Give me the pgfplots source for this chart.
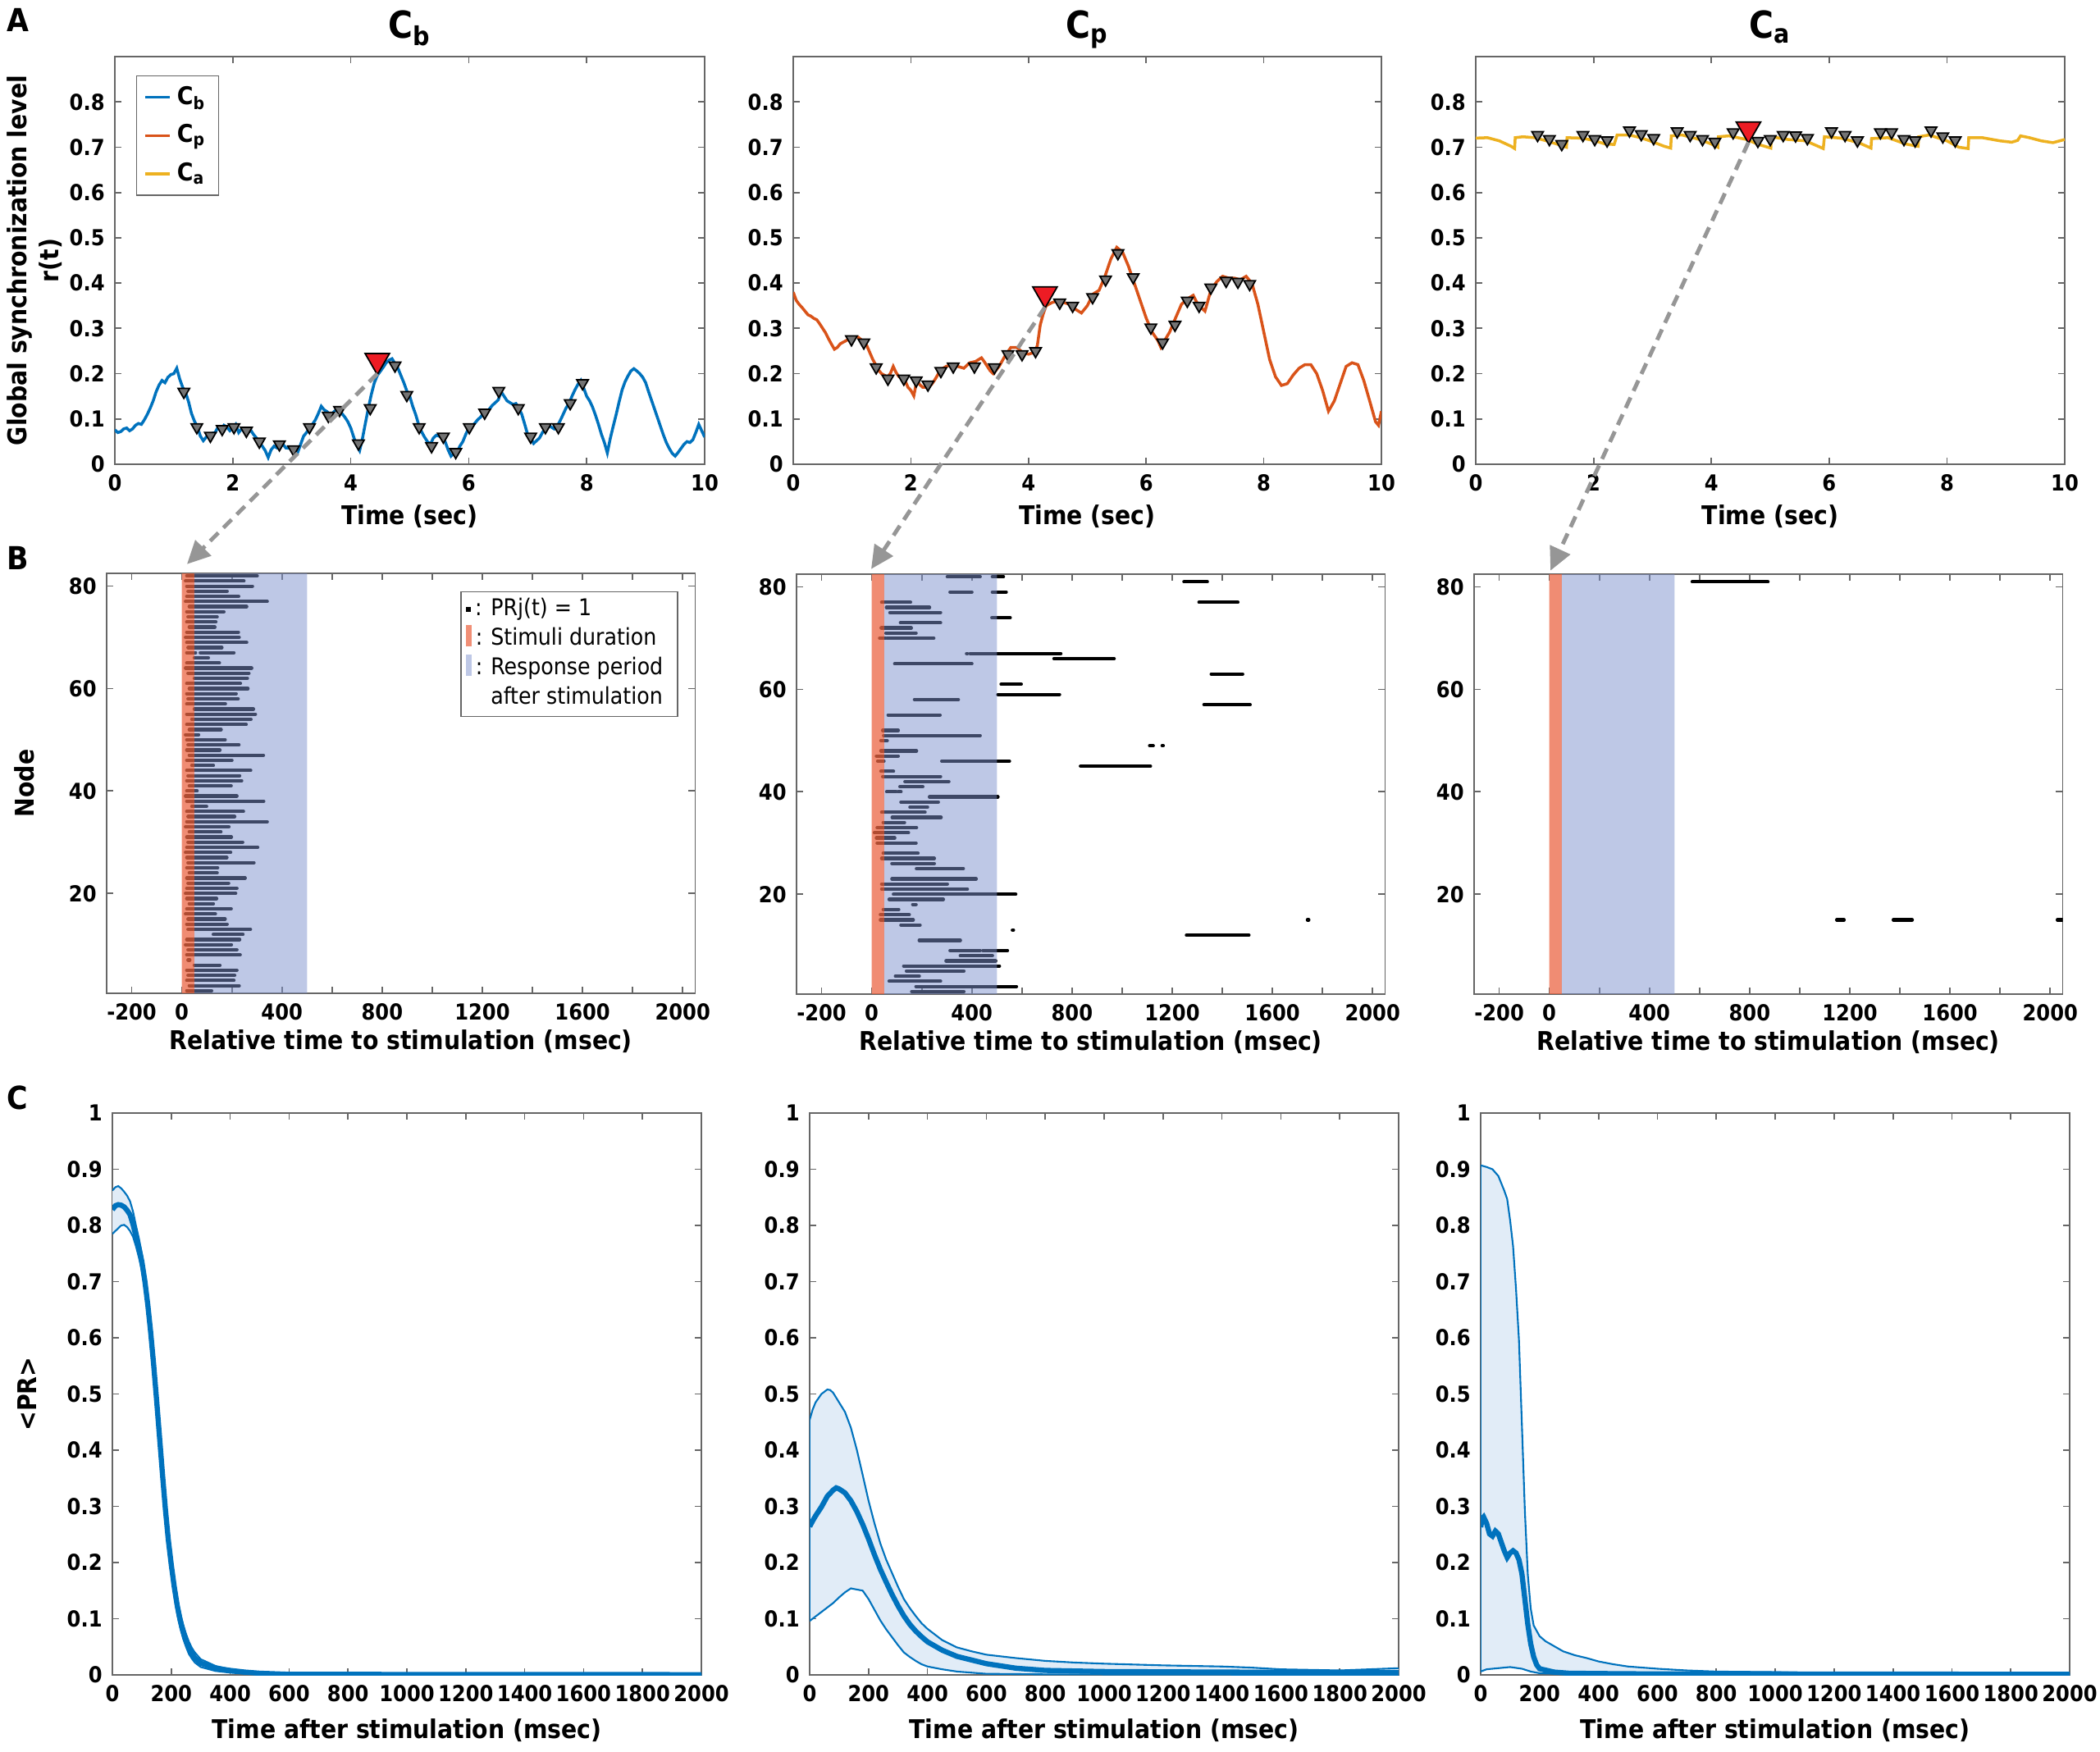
\documentclass[border=0pt]{standalone}
\usepackage{fontspec}
\setmainfont{DejaVu Sans Condensed}[BoldFont={DejaVu Sans Condensed Bold}]
\usepackage{pgfplots}
\usepackage{pgfplotstable}
\pgfplotsset{compat=1.18}
\usetikzlibrary{arrows.meta}

\definecolor{mblue}{RGB}{0,114,189}
\definecolor{morange}{RGB}{217,83,25}
\definecolor{myellow}{RGB}{237,177,32}
\definecolor{mred}{RGB}{237,28,36}
\definecolor{stimc}{RGB}{235,102,68}
\definecolor{respc}{RGB}{125,145,205}
\definecolor{stimL}{RGB}{241,143,118}
\definecolor{respL}{RGB}{190,200,230}
\definecolor{bandc}{RGB}{225,236,247}
\definecolor{arrowc}{RGB}{150,150,150}

\newcommand\tickfont{\fontsize{7.65}{9}\selectfont\bfseries}
\newcommand\labfont{\fontsize{8.95}{11.1}\selectfont\bfseries}
\newcommand\titfont{\fontsize{12.9}{14}\selectfont\bfseries}
\newcommand\panfont{\fontsize{11}{12}\selectfont\bfseries}
\newcommand\legfont{\fontsize{8.5}{10}\selectfont\bfseries}
\newcommand\legbfont{\fontsize{8.0}{10.2}\selectfont}

\pgfplotsset{
  base/.style={
    scale only axis, anchor=north west,
    axis line style={black!60, line width=0.5pt},
    tick style={black!60, line width=0.5pt},
    major tick length=2.3pt,
    tick align=inside,
    tick label style={font=\tickfont},
    /pgf/number format/assume math mode=true,
    /pgf/number format/1000 sep={},
    scaled ticks=false,
    label style={font=\labfont},
  },
  arow/.style={base, width=71.8mm, height=49.7mm,
    xmin=0, xmax=10, ymin=0, ymax=0.9,
    xtick={0,2,4,6,8,10}, ytick={0,0.1,0.2,0.3,0.4,0.5,0.6,0.7,0.8},
    xlabel={Time (sec)}, xlabel style={at={(axis description cs:0.5,-0.129)}, anchor=center},
    title style={font=\titfont, at={(0.5,1)}, anchor=base, yshift=0.5pt},
  },
  brow/.style={base, width=71.75mm, height=51.2mm,
    xmin=-300, xmax=2050, ymin=0.5, ymax=82.5,
    xtick={-200,0,200,400,600,800,1000,1200,1400,1600,1800,2000},
    xticklabels={-200,0,,400,,800,,1200,,1600,,2000},
    ytick={20,40,60,80},
    xlabel={Relative time to stimulation (msec)},
    xlabel style={at={(axis description cs:0.5,-0.115)}, anchor=center},
  },
  crow/.style={base, width=71.8mm, height=68.5mm,
    xmin=0, xmax=2000, ymin=0, ymax=1,
    xtick={0,200,400,600,800,1000,1200,1400,1600,1800,2000},
    ytick={0,0.1,0.2,0.3,0.4,0.5,0.6,0.7,0.8,0.9,1},
    xlabel={Time after stimulation (msec)},
    xlabel style={at={(axis description cs:0.5,-0.098)}, anchor=center},
  },
  smalltri/.style={only marks, mark=triangle*, mark size=2.3pt,
    mark options={rotate=180, fill=black!55, draw=black, line width=0.5pt}},
  bigtri/.style={only marks, mark=triangle*, mark size=4.9pt,
    mark options={rotate=180, fill=mred, draw=black, line width=0.5pt}},
  bars/.style={black, line width=1.2pt, line cap=round, quiver={u=\thisrow{u}, v=0}},
}

% ---------------- panel C data ----------------
\pgfplotstableread{
x y
0 0.862
10 0.868
20 0.870
30 0.866
40 0.860
50 0.853
60 0.843
70 0.825
80 0.800
90 0.777
100 0.750
110 0.714
120 0.672
130 0.622
140 0.566
150 0.504
160 0.440
170 0.374
180 0.312
190 0.258
200 0.212
210 0.172
220 0.138
230 0.111
240 0.090
250 0.073
260 0.059
270 0.048
280 0.040
300 0.028
350 0.016
400 0.010
450 0.007
500 0.005
600 0.003
800 0.002
1000 0.0015
2000 0.001
}\ConeU
\pgfplotstableread{
x y
0 0.828
10 0.835
20 0.837
30 0.836
40 0.833
50 0.827
60 0.819
70 0.802
80 0.781
90 0.760
100 0.736
110 0.702
120 0.660
130 0.610
140 0.553
150 0.490
160 0.424
170 0.358
180 0.295
190 0.240
200 0.196
210 0.157
220 0.124
230 0.098
240 0.078
250 0.061
260 0.048
270 0.038
280 0.030
300 0.021
350 0.012
400 0.008
450 0.005
500 0.003
600 0.001
800 0.001
1000 0.0008
1500 0.0006
2000 0.0005
}\ConeM
\pgfplotstableread{
x y
0 0.785
10 0.790
20 0.795
30 0.800
40 0.801
50 0.797
60 0.790
70 0.780
80 0.763
90 0.743
100 0.720
110 0.688
120 0.646
130 0.597
140 0.540
150 0.477
160 0.410
170 0.343
180 0.280
190 0.225
200 0.180
210 0.141
220 0.108
230 0.084
240 0.065
250 0.050
260 0.037
270 0.029
280 0.022
300 0.014
350 0.007
400 0.004
450 0.002
500 0.001
600 0.0
2000 0.0
}\ConeL

\pgfplotstableread{
x y
0 0.454
10 0.472
20 0.485
40 0.500
60 0.508
70 0.507
80 0.502
100 0.485
120 0.468
140 0.440
160 0.401
180 0.356
200 0.310
220 0.270
240 0.234
260 0.205
280 0.181
300 0.157
320 0.135
340 0.119
360 0.105
380 0.092
400 0.082
450 0.062
500 0.049
550 0.042
600 0.036
700 0.030
800 0.025
900 0.022
1000 0.020
1200 0.017
1400 0.015
1500 0.013
1600 0.010
1800 0.008
1900 0.010
2000 0.012
}\CtwoU
\pgfplotstableread{
x y
0 0.264
10 0.274
20 0.283
40 0.299
60 0.318
80 0.329
90 0.333
100 0.331
120 0.324
140 0.310
160 0.291
180 0.268
200 0.242
220 0.214
240 0.188
260 0.165
280 0.143
300 0.123
320 0.105
340 0.090
360 0.078
380 0.068
400 0.059
450 0.044
500 0.033
600 0.020
700 0.012
800 0.008
1000 0.006
1400 0.005
2000 0.004
}\CtwoM
\pgfplotstableread{
x y
0 0.096
20 0.104
40 0.112
60 0.120
80 0.128
100 0.138
120 0.147
140 0.154
160 0.152
180 0.150
200 0.135
220 0.116
240 0.097
260 0.081
280 0.067
300 0.053
320 0.040
340 0.032
360 0.025
380 0.019
400 0.015
450 0.010
500 0.006
600 0.002
800 0.001
2000 0.0
}\CtwoL

\pgfplotstableread{
x y
0 0.907
20 0.904
40 0.900
60 0.888
80 0.862
90 0.847
100 0.809
110 0.763
120 0.687
130 0.596
140 0.445
150 0.293
160 0.179
170 0.118
180 0.088
200 0.069
220 0.060
240 0.054
260 0.048
280 0.042
320 0.035
360 0.030
400 0.024
450 0.019
500 0.015
600 0.011
700 0.008
800 0.006
1000 0.005
1200 0.002
2000 0.001
}\CthreeU
\pgfplotstableread{
x y
0 0.263
5 0.278
10 0.281
20 0.270
30 0.251
40 0.247
50 0.256
60 0.251
70 0.236
80 0.221
90 0.209
100 0.217
110 0.221
120 0.217
130 0.205
140 0.180
150 0.135
160 0.090
170 0.055
180 0.032
190 0.018
200 0.011
250 0.005
300 0.003
500 0.002
2000 0.001
}\CthreeM
\pgfplotstableread{
x y
0 0.006
20 0.010
60 0.012
100 0.014
140 0.011
170 0.006
200 0.003
300 0.001
2000 0.0
}\CthreeL

\begin{document}
\begin{tikzpicture}
\path[use as bounding box] (0,0) rectangle (256mm,-213.6mm);

% ================= ROW B =================
\begin{axis}[brow, at={(13.0mm,-69.9mm)}, ylabel={Node},
  ylabel style={at={(axis description cs:-0.140,0.5)}, anchor=center}]
\addplot[bars] table[x=x,y=y] {
x y u
20 82 281
15 81 233
20 80 262
25 79 156
20 78 207
15 77 326
30 76 229
20 75 148
25 74 116
20 73 116
30 72 102
20 71 206
15 70 214
20 69 239
25 68 135
20 67 35
74 67 134
50 66 56
20 65 130
15 64 264
25 63 243
50 62 212
20 61 214
30 60 234
20 59 197
25 58 200
20 57 154
50 56 236
20 55 274
40 54 236
20 53 237
30 52 127
15 51 52
20 50 153
25 49 203
20 48 132
30 47 296
20 46 180
40 45 86
20 44 255
25 43 206
20 42 219
30 41 167
20 40 41
15 39 205
20 38 307
40 37 59
20 36 226
25 35 186
20 34 321
15 33 173
30 32 126
20 31 178
25 30 218
20 29 283
15 28 180
20 27 160
25 26 263
20 25 123
30 24 111
20 23 233
25 22 162
20 21 200
15 20 200
20 19 119
30 18 96
20 17 177
15 16 119
25 15 148
20 14 161
25 13 249
126 12 57
188 12 56
20 11 211
15 10 183
25 9 195
20 8 213
25 7 7
50 6 102
20 5 200
25 4 186
20 3 188
30 2 199
20 1 99
};
\addplot[draw=none, fill=stimc, fill opacity=0.75] coordinates {(0,0) (50,0) (50,90) (0,90) (0,0)};
\addplot[draw=none, fill=respc, fill opacity=0.5] coordinates {(50,0) (500,0) (500,90) (50,90) (50,0)};
\node[draw=black!60, fill=white, anchor=north west, inner xsep=0pt, inner ysep=1.2pt, font=\legbfont] at (axis cs:1113,79) {%
\begin{tabular}{@{\hspace{1.7pt}}p{8.6pt}@{}l@{\hspace{5pt}}}
\rule[1.4pt]{1.8pt}{1.8pt}\,: & PRj(t) = 1\\
\textcolor{stimL}{\rule[-0.4pt]{2pt}{7.4pt}}\,: & Stimuli duration\\
\textcolor{respL}{\rule[-0.4pt]{2pt}{7.4pt}}\,: & Response period\\
 & after stimulation
\end{tabular}};
\coordinate (b1) at (axis cs:21,84.3);
\end{axis}

\begin{axis}[brow, at={(97.1mm,-70.0mm)}]
\addplot[bars] table[x=x,y=y] {
x y u
302 82 131
482 82 44
1247 81 93
313 79 87
482 79 55
40 77 115
1307 77 155
59 76 172
73 75 202
480 74 73
115 73 160
38 72 120
57 71 120
32 70 23
62 70 186
379 67 3
393 67 362
728 66 240
92 65 308
1356 63 125
517 61 80
504 59 246
171 58 175
1327 57 184
66 55 207
44 52 62
48 51 385
37 50 25
1110 49 14
1160 49 4
37 48 142
19 47 87
24 46 25
280 46 270
834 45 279
37 44 50
44 43 231
133 42 175
113 41 91
60 40 38
106 40 11
231 39 273
117 38 149
153 37 70
40 36 173
82 35 195
46 34 85
22 33 157
11 32 136
19 31 73
22 30 155
46 28 139
40 27 210
81 26 169
179 25 187
81 23 336
40 22 262
40 21 342
87 20 488
70 19 216
164 18 13
46 17 62
35 16 115
35 15 131
1740 15 5
117 14 76
562 13 4
1257 12 249
190 11 164
313 9 120
444 9 98
354 8 128
297 7 198
128 6 382
139 5 229
95 4 95
70 3 205
177 2 401
160 1 208
};
\addplot[draw=none, fill=stimc, fill opacity=0.75] coordinates {(0,0) (50,0) (50,90) (0,90) (0,0)};
\addplot[draw=none, fill=respc, fill opacity=0.5] coordinates {(50,0) (500,0) (500,90) (50,90) (50,0)};
\coordinate (b2) at (axis cs:-2,83.5);
\end{axis}

\begin{axis}[brow, at={(179.7mm,-70.0mm)}]
\addplot[bars] table[x=x,y=y] {
x y u
571 81 302
1148 15 29
1374 15 75
2029 15 21
};
\addplot[draw=none, fill=stimc, fill opacity=0.75] coordinates {(0,0) (50,0) (50,90) (0,90) (0,0)};
\addplot[draw=none, fill=respc, fill opacity=0.5] coordinates {(50,0) (500,0) (500,90) (50,90) (50,0)};
\coordinate (b3) at (axis cs:5,83.2);
\end{axis}

% ================= ROW A =================
\begin{axis}[arow, at={(14.0mm,-6.9mm)}, width=71.9mm, title={C\textsubscript{b}},
  ylabel={Global synchronization level\\r(t)},
  ylabel style={at={(axis description cs:-0.1356,0.5)}, anchor=center, align=center},
  legend style={at={(0.036,0.954)}, anchor=north west, draw=black!60, font=\legfont,
    inner xsep=2.5pt, inner ysep=1.5pt, row sep=1.5pt, cells={anchor=west}},
  legend image code/.code={\draw[#1] (0mm,0mm) -- (3mm,0mm);}]
\addplot[mblue, line width=1pt] coordinates {
(0.0,0.076) (0.05,0.070) (0.1,0.072) (0.15,0.078) (0.2,0.080) (0.25,0.074) (0.3,0.078) (0.35,0.086) (0.4,0.090)
(0.45,0.088) (0.5,0.098) (0.55,0.110) (0.6,0.124) (0.65,0.140) (0.7,0.160) (0.75,0.175) (0.8,0.185)
(0.85,0.180) (0.9,0.192) (0.95,0.198) (1.0,0.200) (1.05,0.212) (1.1,0.188) (1.15,0.170) (1.2,0.158)
(1.25,0.138) (1.3,0.112) (1.35,0.095) (1.4,0.082) (1.45,0.062) (1.5,0.052) (1.55,0.060) (1.6,0.066)
(1.7,0.070) (1.75,0.082) (1.8,0.076) (1.85,0.086) (1.9,0.082) (1.95,0.074) (2.0,0.080) (2.05,0.088)
(2.1,0.070) (2.15,0.078) (2.2,0.072) (2.25,0.068) (2.3,0.076) (2.35,0.066) (2.4,0.058) (2.45,0.048)
(2.5,0.040) (2.55,0.030) (2.6,0.015) (2.65,0.032) (2.7,0.040) (2.75,0.036) (2.8,0.042) (2.85,0.044)
(2.9,0.036) (3.0,0.035) (3.05,0.030) (3.1,0.026) (3.15,0.044) (3.2,0.062) (3.25,0.070) (3.3,0.080)
(3.35,0.088) (3.4,0.098) (3.45,0.112) (3.5,0.128) (3.55,0.120) (3.6,0.116) (3.65,0.108) (3.7,0.114)
(3.75,0.120) (3.8,0.116) (3.85,0.112) (3.9,0.104) (3.95,0.094) (4.0,0.080) (4.05,0.060) (4.1,0.042)
(4.15,0.030) (4.2,0.058) (4.25,0.092) (4.3,0.125) (4.35,0.155) (4.4,0.180) (4.45,0.196) (4.5,0.205)
(4.55,0.214) (4.6,0.224) (4.65,0.230) (4.7,0.233) (4.75,0.222) (4.8,0.212) (4.85,0.196) (4.9,0.180)
(4.95,0.162) (5.0,0.150) (5.05,0.128) (5.1,0.110) (5.15,0.088) (5.2,0.072) (5.25,0.060) (5.3,0.050)
(5.35,0.044) (5.4,0.058) (5.45,0.064) (5.5,0.062) (5.55,0.058) (5.6,0.050) (5.65,0.032) (5.7,0.018)
(5.75,0.024) (5.8,0.026) (5.85,0.040) (5.9,0.050) (5.95,0.066) (6.0,0.080) (6.05,0.084) (6.1,0.090)
(6.15,0.098) (6.2,0.104) (6.25,0.112) (6.3,0.112) (6.35,0.122) (6.4,0.130) (6.45,0.136) (6.5,0.142)
(6.55,0.160) (6.6,0.150) (6.65,0.140) (6.7,0.136) (6.75,0.132) (6.8,0.134) (6.85,0.124) (6.9,0.110)
(6.95,0.088) (7.0,0.065) (7.05,0.058) (7.1,0.046) (7.15,0.052) (7.2,0.058) (7.25,0.070) (7.3,0.080)
(7.35,0.086) (7.4,0.082) (7.45,0.078) (7.5,0.084) (7.55,0.096) (7.6,0.110) (7.65,0.124) (7.7,0.134)
(7.75,0.150) (7.8,0.164) (7.85,0.176) (7.9,0.185) (7.95,0.168) (8.0,0.150) (8.05,0.140) (8.1,0.126)
(8.15,0.108) (8.2,0.088) (8.25,0.066) (8.3,0.048) (8.35,0.025) (8.4,0.057) (8.45,0.084) (8.5,0.110)
(8.55,0.138) (8.6,0.164) (8.65,0.182) (8.7,0.195) (8.75,0.206) (8.8,0.211) (8.85,0.206) (8.9,0.200)
(8.95,0.192) (9.0,0.180) (9.05,0.160) (9.1,0.141) (9.15,0.122) (9.2,0.103) (9.25,0.084) (9.3,0.065)
(9.35,0.048) (9.4,0.035) (9.45,0.024) (9.5,0.018) (9.55,0.026) (9.6,0.035) (9.65,0.044) (9.7,0.050)
(9.75,0.048) (9.8,0.054) (9.85,0.070) (9.9,0.088) (9.95,0.074) (10.0,0.060)
};
\addlegendentry{C\textsubscript{b}}
\addlegendimage{morange, line width=1pt}
\addlegendentry{C\textsubscript{p}}
\addlegendimage{myellow, line width=1pt}
\addlegendentry{C\textsubscript{a}}
\addplot[smalltri, forget plot] coordinates {
(1.17,0.160) (1.39,0.082) (1.62,0.063) (1.82,0.078) (2.02,0.082) (2.23,0.074) (2.45,0.050)
(2.79,0.044) (3.03,0.033) (3.30,0.082) (3.62,0.107) (3.81,0.120) (4.13,0.046) (4.33,0.124)
(4.75,0.218) (4.95,0.153) (5.16,0.082) (5.37,0.040) (5.57,0.061) (5.78,0.027) (6.01,0.082)
(6.27,0.114) (6.51,0.162) (6.84,0.124) (7.05,0.061) (7.30,0.082) (7.52,0.082) (7.72,0.135) (7.93,0.179)
};
\addplot[bigtri, forget plot] coordinates {(4.45,0.229)};
\coordinate (a1) at (axis cs:4.45,0.229);
\end{axis}

\begin{axis}[arow, at={(96.7mm,-6.9mm)}, width=71.7mm, title={C\textsubscript{p}}]
\addplot[morange, line width=1pt] coordinates {
(0.0,0.380) (0.05,0.362) (0.1,0.353) (0.15,0.346) (0.2,0.338) (0.25,0.330) (0.3,0.327) (0.35,0.322)
(0.4,0.319) (0.45,0.310) (0.5,0.300) (0.55,0.290) (0.6,0.277) (0.65,0.265) (0.7,0.254) (0.75,0.258)
(0.8,0.266) (0.9,0.273) (1.0,0.281) (1.1,0.281) (1.2,0.270) (1.25,0.262) (1.3,0.247) (1.35,0.232)
(1.4,0.220) (1.45,0.208) (1.5,0.200) (1.6,0.193) (1.65,0.200) (1.7,0.216) (1.75,0.202) (1.8,0.193)
(1.9,0.185) (1.95,0.170) (2.0,0.163) (2.05,0.151) (2.1,0.185) (2.15,0.176) (2.2,0.170) (2.3,0.170)
(2.35,0.176) (2.4,0.185) (2.45,0.196) (2.5,0.208) (2.6,0.216) (2.7,0.220) (2.8,0.216) (2.9,0.212)
(3.0,0.224) (3.1,0.227) (3.2,0.235) (3.25,0.226) (3.3,0.216) (3.35,0.206) (3.4,0.200) (3.45,0.208)
(3.5,0.216) (3.6,0.239) (3.7,0.258) (3.8,0.258) (3.9,0.247) (4.0,0.243) (4.1,0.247) (4.15,0.262)
(4.2,0.308) (4.25,0.332) (4.3,0.350) (4.4,0.357) (4.5,0.361) (4.6,0.357) (4.7,0.353) (4.8,0.342)
(4.9,0.334) (5.0,0.350) (5.1,0.376) (5.2,0.384) (5.3,0.415) (5.4,0.453) (5.5,0.479) (5.6,0.468)
(5.7,0.437) (5.8,0.399) (5.9,0.361) (6.0,0.323) (6.1,0.292) (6.2,0.273) (6.25,0.258) (6.3,0.270)
(6.4,0.292) (6.5,0.323) (6.6,0.353) (6.7,0.365) (6.8,0.373) (6.85,0.360) (6.9,0.350) (7.0,0.338)
(7.1,0.384) (7.2,0.403) (7.3,0.415) (7.4,0.411) (7.5,0.411) (7.6,0.407) (7.7,0.415) (7.8,0.399)
(7.9,0.353) (8.0,0.292) (8.1,0.231) (8.2,0.193) (8.3,0.174) (8.4,0.178) (8.5,0.197) (8.6,0.212)
(8.7,0.220) (8.8,0.220) (8.9,0.200) (9.0,0.163) (9.1,0.117) (9.2,0.140) (9.3,0.178) (9.4,0.216)
(9.5,0.224) (9.6,0.220) (9.7,0.185) (9.8,0.140) (9.9,0.094) (9.95,0.086) (10.0,0.117)
};
\addplot[smalltri] coordinates {
(0.99,0.276) (1.20,0.269) (1.41,0.214) (1.61,0.189) (1.88,0.189) (2.09,0.185) (2.29,0.176)
(2.51,0.206) (2.72,0.216) (3.08,0.216) (3.42,0.214) (3.65,0.243) (3.89,0.243) (4.12,0.250)
(4.53,0.357) (4.75,0.350) (5.09,0.369) (5.31,0.408) (5.52,0.466) (5.78,0.413) (6.08,0.302)
(6.28,0.269) (6.49,0.308) (6.70,0.361) (6.90,0.350) (7.10,0.390) (7.36,0.405) (7.56,0.403) (7.76,0.398)
};
\addplot[bigtri] coordinates {(4.28,0.376)};
\coordinate (a2) at (axis cs:4.28,0.376);
\end{axis}

\begin{axis}[arow, at={(179.9mm,-6.9mm)}, width=71.8mm, title={C\textsubscript{a}}]
\addplot[myellow, line width=1pt] coordinates {
(0.0,0.720) (0.2,0.721) (0.4,0.714) (0.6,0.702) (0.66,0.697) (0.67,0.721) (0.8,0.723) (1.0,0.721)
(1.2,0.714) (1.4,0.706) (1.54,0.700) (1.55,0.721) (1.8,0.720) (2.0,0.715) (2.2,0.707) (2.35,0.706)
(2.40,0.727) (2.6,0.727) (2.8,0.721) (3.0,0.712) (3.2,0.702) (3.31,0.698) (3.32,0.725) (3.5,0.727)
(3.8,0.717) (4.0,0.707) (4.11,0.700) (4.12,0.723) (4.3,0.725) (4.6,0.717) (4.8,0.706) (5.01,0.698)
(5.02,0.723) (5.3,0.717) (5.6,0.714) (5.9,0.697) (5.92,0.723) (6.2,0.720) (6.5,0.710) (6.71,0.698)
(6.72,0.719) (7.0,0.721) (7.3,0.707) (7.51,0.702) (7.52,0.723) (7.7,0.727) (8.0,0.714) (8.2,0.700)
(8.36,0.697) (8.37,0.721) (8.6,0.721) (8.9,0.714) (9.1,0.711) (9.2,0.715) (9.25,0.725) (9.4,0.721)
(9.6,0.714) (9.8,0.710) (10.0,0.717)
};
\addplot[smalltri] coordinates {
(1.05,0.727) (1.25,0.718) (1.46,0.707) (1.82,0.727) (2.02,0.718) (2.23,0.715) (2.61,0.737)
(2.81,0.729) (3.02,0.720) (3.42,0.735) (3.64,0.727) (3.85,0.718) (4.06,0.712) (4.37,0.733)
(4.79,0.714) (5.00,0.718) (5.22,0.727) (5.43,0.726) (5.63,0.720) (6.04,0.735) (6.27,0.727)
(6.48,0.715) (6.87,0.733) (7.06,0.733) (7.27,0.718) (7.46,0.715) (7.73,0.737) (7.93,0.724) (8.14,0.715)
};
\addplot[bigtri] coordinates {(4.63,0.740)};
\coordinate (a3) at (axis cs:4.63,0.740);
\end{axis}

% ================= ROW C =================
\begin{axis}[crow, at={(13.7mm,-135.7mm)}, ylabel={<PR>},
  ylabel style={at={(axis description cs:-0.145,0.5)}, anchor=center}]
\addplot[draw=none, fill=bandc] coordinates {
(0,0.862) (10,0.868) (20,0.870) (30,0.866) (40,0.860) (50,0.853) (60,0.843) (70,0.825) (80,0.800)
(90,0.777) (100,0.750) (110,0.714) (120,0.672) (130,0.622) (140,0.566) (150,0.504) (160,0.440)
(170,0.374) (180,0.312) (190,0.258) (200,0.212) (210,0.172) (220,0.138) (230,0.111) (240,0.090)
(250,0.073) (260,0.059) (270,0.048) (280,0.040) (300,0.028) (350,0.016) (400,0.010) (450,0.007)
(500,0.005) (600,0.003) (800,0.002) (1000,0.0015) (2000,0.001)
(2000,0.0) (600,0.0) (500,0.001) (450,0.002) (400,0.004) (350,0.007) (300,0.014) (280,0.022)
(270,0.029) (260,0.037) (250,0.050) (240,0.065) (230,0.084) (220,0.108) (210,0.141) (200,0.180)
(190,0.225) (180,0.280) (170,0.343) (160,0.410) (150,0.477) (140,0.540) (130,0.597) (120,0.646)
(110,0.688) (100,0.720) (90,0.743) (80,0.763) (70,0.780) (60,0.790) (50,0.797) (40,0.801)
(30,0.800) (20,0.795) (10,0.790) (0,0.785)
};
\addplot[mblue, line width=0.6pt] table {\ConeU};
\addplot[mblue, line width=0.6pt] table {\ConeL};
\addplot[mblue, line width=1.8pt] table {\ConeM};
\end{axis}

\begin{axis}[crow, at={(98.7mm,-135.7mm)}]
\addplot[draw=none, fill=bandc] coordinates {
(0,0.454) (10,0.472) (20,0.485) (40,0.500) (60,0.508) (70,0.507) (80,0.502) (100,0.485) (120,0.468)
(140,0.440) (160,0.401) (180,0.356) (200,0.310) (220,0.270) (240,0.234) (260,0.205) (280,0.181)
(300,0.157) (320,0.135) (340,0.119) (360,0.105) (380,0.092) (400,0.082) (450,0.062) (500,0.049)
(550,0.042) (600,0.036) (700,0.030) (800,0.025) (900,0.022) (1000,0.020) (1200,0.017) (1400,0.015)
(1500,0.013) (1600,0.010) (1800,0.008) (1900,0.010) (2000,0.012)
(2000,0.0) (800,0.001) (600,0.002) (500,0.006) (450,0.010) (400,0.015) (380,0.019) (360,0.025)
(340,0.032) (320,0.040) (300,0.053) (280,0.067) (260,0.081) (240,0.097) (220,0.116) (200,0.135)
(180,0.150) (160,0.152) (140,0.154) (120,0.147) (100,0.138) (80,0.128) (60,0.120) (40,0.112)
(20,0.104) (0,0.096)
};
\addplot[mblue, line width=0.6pt] table {\CtwoU};
\addplot[mblue, line width=0.6pt] table {\CtwoL};
\addplot[mblue, line width=0.6pt] coordinates {(0,0.096) (0,0.454)};
\addplot[mblue, line width=1.8pt] table {\CtwoM};
\end{axis}

\begin{axis}[crow, at={(180.5mm,-135.7mm)}]
\addplot[draw=none, fill=bandc] coordinates {
(0,0.907) (20,0.904) (40,0.900) (60,0.888) (80,0.862) (90,0.847) (100,0.809) (110,0.763) (120,0.687)
(130,0.596) (140,0.445) (150,0.293) (160,0.179) (170,0.118) (180,0.088) (200,0.069) (220,0.060)
(240,0.054) (260,0.048) (280,0.042) (320,0.035) (360,0.030) (400,0.024) (450,0.019) (500,0.015)
(600,0.011) (700,0.008) (800,0.006) (1000,0.005) (1200,0.002) (2000,0.001)
(2000,0.0) (300,0.001) (200,0.003) (170,0.006) (140,0.011) (100,0.014) (60,0.012) (20,0.010) (0,0.006)
};
\addplot[mblue, line width=0.6pt] table {\CthreeU};
\addplot[mblue, line width=0.6pt] table {\CthreeL};
\addplot[mblue, line width=0.6pt] coordinates {(0,0.006) (0,0.907)};
\addplot[mblue, line width=1.8pt] table {\CthreeM};
\end{axis}

% ================= annotations =================
\tikzset{linkarrow/.style={draw=arrowc, line width=1.4pt, dash pattern=on 4pt off 2.5pt,
  -{Triangle[length=8pt,width=7.5pt,fill=arrowc]}}}
\draw[linkarrow] ([yshift=-4.6pt]a1) -- (b1);
\draw[linkarrow] ([yshift=-4.6pt]a2) -- (b2);
\draw[linkarrow] ([yshift=-4.6pt]a3) -- (b3);

\node[font=\panfont, anchor=base west, inner sep=0pt] at (0.8mm,-3.9mm) {A};
\node[font=\panfont, anchor=base west, inner sep=0pt] at (0.8mm,-69.4mm) {B};
\node[font=\panfont, anchor=base west, inner sep=0pt] at (0.8mm,-135.2mm) {C};
\end{tikzpicture}
\end{document}
